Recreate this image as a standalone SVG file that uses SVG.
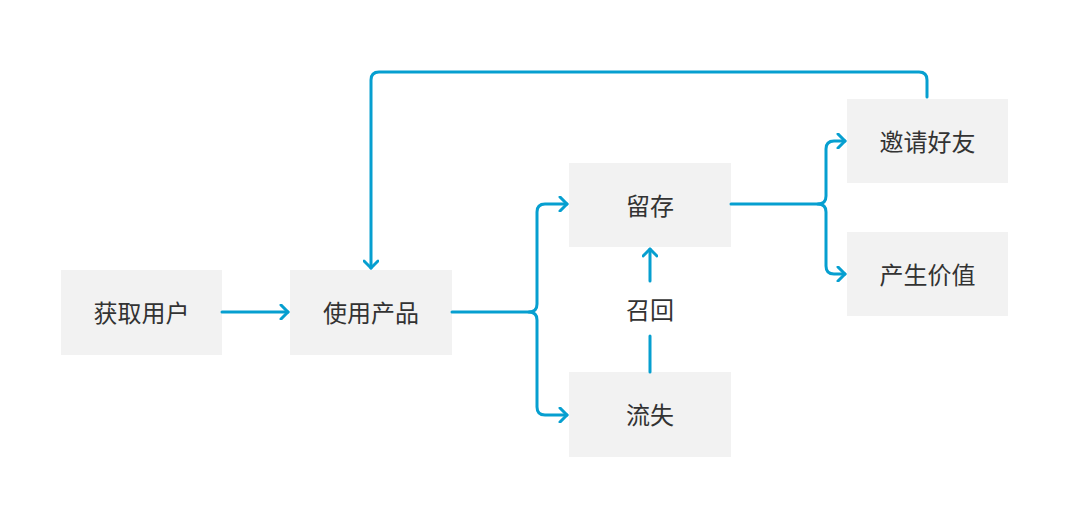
<svg xmlns="http://www.w3.org/2000/svg" width="1080" height="527" viewBox="0 0 1080 527">
<style>
.box{fill:#f2f2f2}
.t{font-family:"Noto Sans CJK SC","Noto Sans",sans-serif;font-size:24px;fill:#333;text-anchor:middle;dominant-baseline:central}
.c{fill:none;stroke:#069fd0;stroke-width:3;stroke-linecap:round;stroke-linejoin:round}
</style>
<defs>
<marker id="ah" markerWidth="12" markerHeight="16" refX="10" refY="8" orient="auto" markerUnits="userSpaceOnUse">
<path d="M3,1 L10,8 L3,15" fill="none" stroke="#069fd0" stroke-width="3" stroke-linecap="round" stroke-linejoin="round"/>
</marker>
</defs>
<rect width="1080" height="527" fill="#fff"/>
<g id="n1"><rect class="box" x="61" y="270" width="161" height="85"/><text class="t" x="141.5" y="311">获取用户</text></g>
<g id="n2"><rect class="box" x="290" y="270" width="162" height="85"/><text class="t" x="371" y="311">使用产品</text></g>
<g id="n3"><rect class="box" x="569" y="163" width="162" height="84"/><text class="t" x="650" y="204">留存</text></g>
<g id="n4"><rect class="box" x="569" y="372" width="162" height="85"/><text class="t" x="650" y="413">流失</text></g>
<g id="n5"><rect class="box" x="847" y="99" width="161" height="84"/><text class="t" x="927.5" y="140">邀请好友</text></g>
<g id="n6"><rect class="box" x="847" y="232" width="161" height="84"/><text class="t" x="927.5" y="273">产生价值</text></g>
<g id="connectors">
<path class="c" d="M222,312 H288" marker-end="url(#ah)"/>
<path class="c" d="M452,312 H529 Q537,312 537,304 V212 Q537,204 545,204 H567" marker-end="url(#ah)"/>
<path class="c" d="M529,312 Q537,312 537,320 V407 Q537,415 545,415 H567" marker-end="url(#ah)"/>
<path class="c" d="M731,204 H818 Q826,204 826,196 V149 Q826,141 834,141 H845" marker-end="url(#ah)"/>
<path class="c" d="M818,204 Q826,204 826,212 V266 Q826,274 834,274 H845" marker-end="url(#ah)"/>
<path class="c" d="M650,372 V336"/>
<path class="c" d="M650,281 V249" marker-end="url(#ah)"/>
<path class="c" d="M927,97 V80 Q927,72 919,72 H379 Q371,72 371,80 V268" marker-end="url(#ah)"/>
<text class="t" x="650" y="308">召回</text>
</g>
</svg>
